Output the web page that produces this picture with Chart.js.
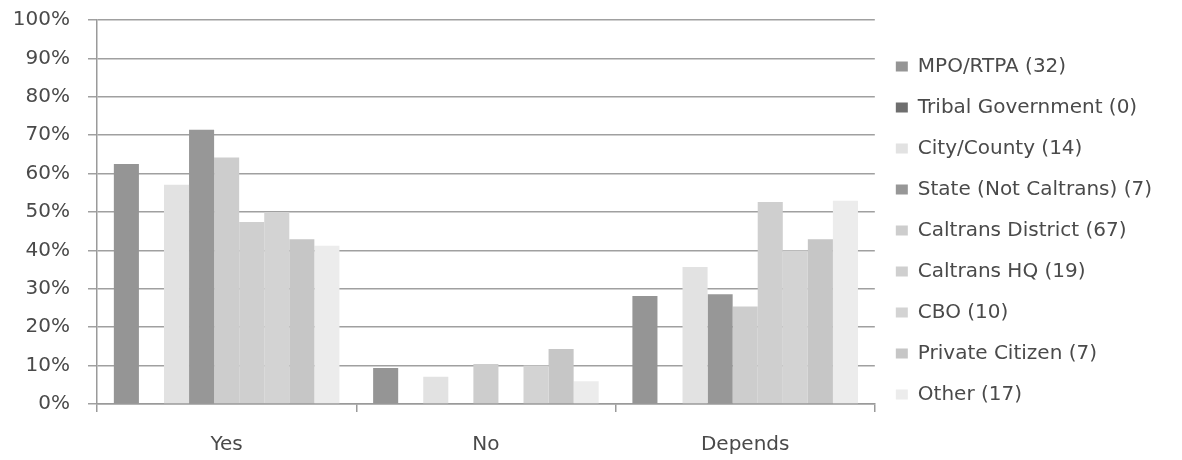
<!DOCTYPE html>
<html>
<head>
<meta charset="utf-8">
<script src="https://cdn.jsdelivr.net/npm/chart.js@4"></script>
<style>
  html, body { margin: 0; padding: 0; background: #fff; }
  #wrap { width: 1182px; height: 460px; }
</style>
</head>
<body>
<div id="wrap"><canvas id="myChart" width="1182" height="460"></canvas></div>
<script>
// Categorías del eje x
const categorias = ["Yes", "No", "Depends"];

// Series (porcentaje de respuestas por grupo)
const mpoRtpa = [62.5, 9.4, 28.1];
const tribal = [0, 0, 0];
const cityCounty = [57.1, 7.1, 35.7];
const stateNotCaltrans = [71.4, 0, 28.6];
const caltransDistrict = [64.2, 10.4, 25.4];
const caltransHQ = [47.4, 0, 52.6];
const cbo = [50, 10, 40];
const privateCitizen = [42.9, 14.3, 42.9];
const other = [41.2, 5.9, 52.9];

const nombresSeries = [
  "MPO/RTPA (32)",
  "Tribal Government (0)",
  "City/County (14)",
  "State (Not Caltrans) (7)",
  "Caltrans District (67)",
  "Caltrans HQ (19)",
  "CBO (10)",
  "Private Citizen (7)",
  "Other (17)",
];

// Marcas del eje y
const ticksY = [0, 10, 20, 30, 40, 50, 60, 70, 80, 90, 100];

const valores = [mpoRtpa, tribal, cityCounty, stateNotCaltrans, caltransDistrict,
  caltransHQ, cbo, privateCitizen, other];
const colores = ["#959595", "#6e6e6e", "#e2e2e2", "#979797", "#cdcdcd",
  "#cfcfcf", "#d3d3d3", "#c6c6c6", "#ececec"];

const ctx = document.getElementById("myChart").getContext("2d");
Chart.defaults.font.family = "'DejaVu Sans', sans-serif";
Chart.defaults.font.size = 20;
Chart.defaults.color = "#4a4a4a";

new Chart(ctx, {
  type: "bar",
  data: {
    labels: categorias,
    datasets: valores.map((v, i) => ({
      label: nombresSeries[i],
      data: v,
      backgroundColor: colores[i],
      borderWidth: 0,
      barPercentage: 1,
      categoryPercentage: 0.87,
    })),
  },
  options: {
    responsive: false,
    animation: false,
    layout: { padding: { left: 12, top: 1, right: 20, bottom: 0 } },
    plugins: {
      tooltip: { enabled: false },
      legend: {
        position: "right",
        labels: {
          boxWidth: 12,
          boxHeight: 10,
          padding: 21,
          color: "#4a4a4a",
        },
      },
    },
    scales: {
      x: {
        afterFit: (axis) => { axis.height = 56; },
        grid: {
          drawOnChartArea: false,
          offset: true,
          tickLength: 8,
          color: "#9a9a9a",
          lineWidth: 1.5,
        },
        border: { color: "#9a9a9a", width: 1.5 },
        ticks: { padding: 21, color: "#4a4a4a" },
      },
      y: {
        min: 0,
        max: 100,
        afterFit: (axis) => { axis.width = 85; axis.paddingTop = 20; },
        afterBuildTicks: (axis) => { axis.ticks = ticksY.map((v) => ({ value: v })); },
        grid: { color: "#a0a0a0", lineWidth: 1.5, tickLength: 9 },
        border: { color: "#9a9a9a", width: 1.5 },
        ticks: { padding: 18, color: "#4a4a4a", callback: (v) => v + "%" },
      },
    },
  },
});
</script>
</body>
</html>
